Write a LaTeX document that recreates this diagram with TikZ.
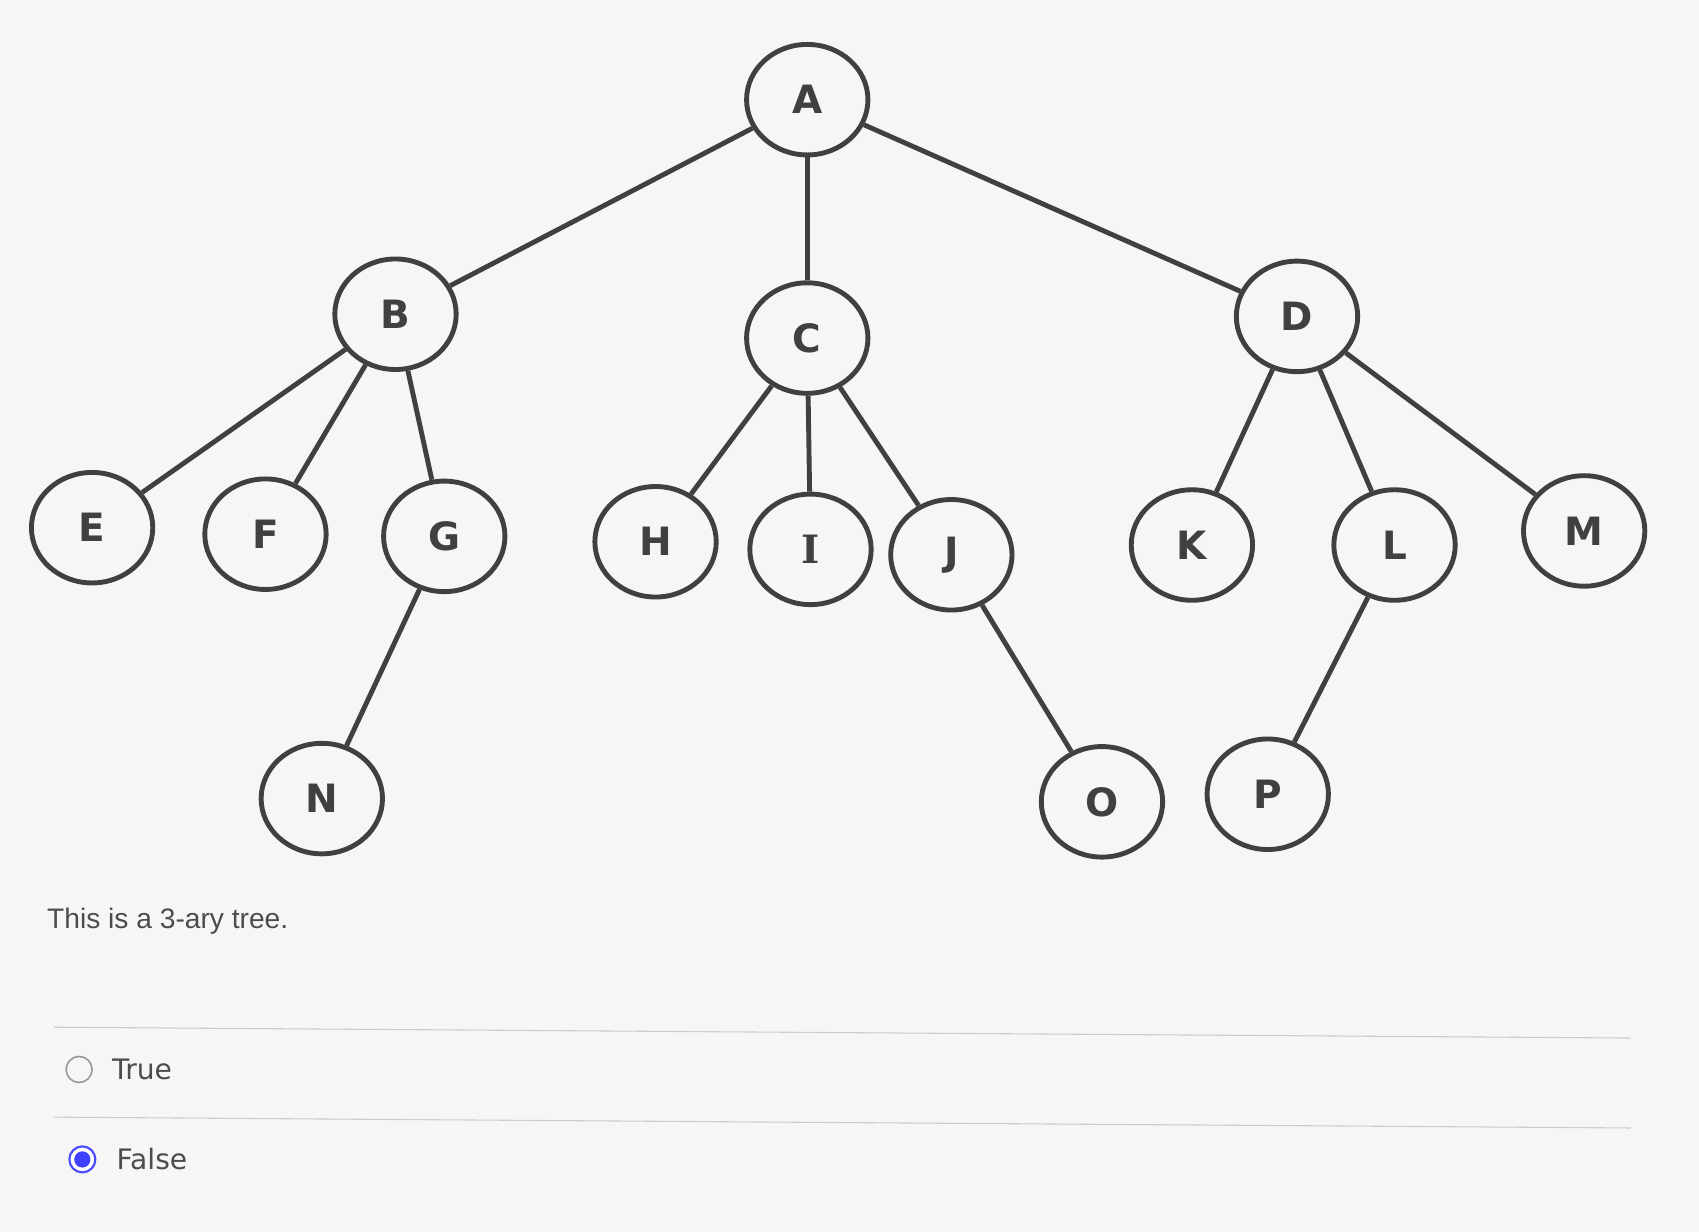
\documentclass[tikz,border=0pt]{standalone}
\usepackage{fontspec}
\setmainfont{DejaVu Sans}
\newfontfamily\qfont{Liberation Sans}
\begin{document}
\begin{tikzpicture}[x=1pt,y=-1pt,
  vtx/.style={draw=black!75,line width=4.5pt,ellipse,minimum width=112pt,minimum height=102pt,inner sep=0pt,font=\fontsize{36}{40}\selectfont\bfseries,text=black!75},
  edge/.style={draw=black!75,line width=4.5pt}]
\usetikzlibrary{shapes.geometric}
\fill[cyan!4!gray!8] (0,0) rectangle (1568,1137);
\useasboundingbox (0,0) rectangle (1568,1137);
\node[vtx] (A) at (745,92) {A};
\node[vtx] (B) at (365,290) {B};
\node[vtx] (C) at (745,312) {C};
\node[vtx] (D) at (1197,292) {D};
\node[vtx] (E) at (85,487) {E};
\node[vtx] (F) at (245,493) {F};
\node[vtx] (G) at (410,495) {G};
\node[vtx] (H) at (605,500) {H};
\node[vtx,font=\fontsize{36}{40}\selectfont\bfseries\rmfamily\setmainfont{DejaVu Serif}] (I) at (748,507) {\fontspec{DejaVu Serif}\bfseries I};
\node[vtx] (J) at (878,512) {J};
\node[vtx] (K) at (1100,503) {K};
\node[vtx] (L) at (1287,503) {L};
\node[vtx] (M) at (1462,490) {M};
\node[vtx] (N) at (297,737) {N};
\node[vtx] (O) at (1017,740) {O};
\node[vtx] (P) at (1170,733) {P};
\foreach \a/\b in {A/B,A/C,A/D,B/E,B/F,B/G,C/H,C/I,C/J,D/K,D/L,D/M,G/N,J/O,L/P}
  \draw[edge] (\a) -- (\b);
\node[anchor=west,font=\fontsize{26}{30}\selectfont\qfont,text=black!70] (q) at (40,850) {This is a 3-ary tree.};
\coordinate (l1a) at (50,948); \coordinate (l1b) at (1505,958);
\coordinate (l2a) at (50,1031); \coordinate (l2b) at (1505,1041);
\draw[black!20,line width=1pt] (l1a) -- (l1b);
\draw[black!20,line width=1pt] (l2a) -- (l2b);
\node[circle,draw=black!40,line width=1.5pt,minimum size=24pt,inner sep=0pt] (r1) at (73,987) {};
\node[anchor=west,font=\fontsize{26}{30}\selectfont,text=black!70] (t1) at (100,987) {True};
\node[circle,draw=blue!70,fill=white,line width=2pt,minimum size=24pt,inner sep=0pt] (r2) at (76,1070) {};
\fill[blue!75] (r2.center) circle (7.5pt);
\node[anchor=west,font=\fontsize{26}{30}\selectfont,text=black!70] (t2) at (104,1070) {False};
\end{tikzpicture}
\end{document}
